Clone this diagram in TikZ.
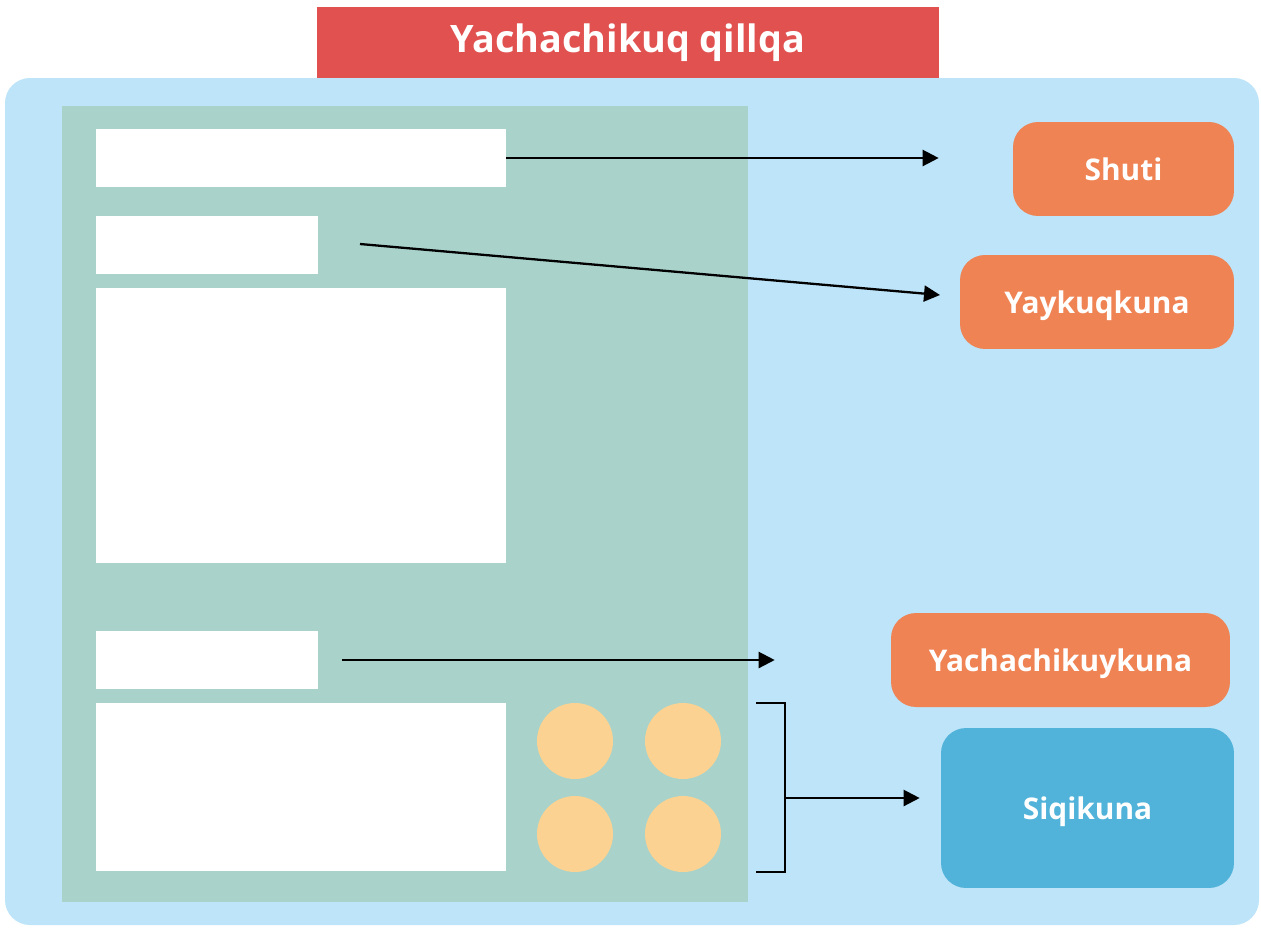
\documentclass[tikz,border=0pt]{standalone}
\usepackage{fontspec}
\setmainfont{Open Sans}
\usepackage{xcolor}
\usetikzlibrary{arrows.meta, positioning, calc}
\definecolor{titlered}{HTML}{E15150}
\definecolor{skyblue}{HTML}{BDE4F9}
\definecolor{panelgreen}{HTML}{A9D2CB}
\definecolor{tagorange}{HTML}{EF8353}
\definecolor{tagblue}{HTML}{51B3D9}
\definecolor{dotyellow}{HTML}{FBD291}
\tikzstyle{slot} = [rectangle, fill=white, inner sep=0pt]
\tikzstyle{dot} = [circle, fill=dotyellow, minimum size=1.52cm, inner sep=0pt]
\tikzstyle{tag} = [rectangle, rounded corners=0.5cm, fill=tagorange, text=white, font=\fontsize{17}{20}\selectfont\bfseries, text depth=0pt, minimum height=1.88cm]
\tikzstyle{arrow} = [line width=1.3pt,->,>={Triangle[length=0.32cm,width=0.32cm]}]

\begin{document}
\begin{tikzpicture}[x=0.02cm, y=-0.02cm]
      \useasboundingbox (0,0) rectangle (1261,927);

      % Backgrounds
      \fill[skyblue, rounded corners=0.5cm] (5,78) rectangle (1259,925);
      \fill[panelgreen] (62,106) rectangle (748,902);

      % Title
      \node[fill=titlered, text=white, minimum width=12.44cm, minimum height=1.42cm, font=\fontsize{21.5}{26}\selectfont\bfseries] (title) at (628,42.5) {Yachachikuq qillqa};

      % Page slots
      \node[slot, minimum width=8.2cm, minimum height=1.16cm] (head) at (301,158) {};
      \node[slot, minimum width=4.44cm, minimum height=1.16cm] (sub) at (207,245) {};
      \node[slot, minimum width=8.2cm, minimum height=5.5cm] (body) at (301,425.5) {};
      \node[slot, minimum width=4.44cm, minimum height=1.16cm] (task) at (207,660) {};
      \node[slot, minimum width=8.2cm, minimum height=3.36cm] (draw) at (301,787) {};

      % Dots
      \node[dot] (d1) at (575,741) {};
      \node[dot] (d2) at (683,741) {};
      \node[dot] (d3) at (575,834) {};
      \node[dot] (d4) at (683,834) {};

      % Labels
      \node[tag, minimum width=4.42cm] (shuti) at (1123.5,169) {Shuti};
      \node[tag, minimum width=5.48cm] (yayk) at (1097,302) {Yaykuqkuna};
      \node[tag, minimum width=6.78cm] (yach) at (1060.5,660) {Yachachikuykuna};
      \node[tag, fill=tagblue, minimum width=5.86cm, minimum height=3.2cm] (siqi) at (1087.5,808) {Siqikuna};

      % Arrows
      \draw[arrow, shorten >=1.48cm] (head.east) -- (shuti.west |- head.east);
      \coordinate (subA) at (360,244);
      \coordinate (subB) at (940,295);
      \draw[arrow] (subA) -- (subB);
      \draw[arrow, shorten <=0.48cm, shorten >=2.32cm] (task.east) -- (yach.west);

      % Bracket
      \coordinate (brT) at (756,703);
      \coordinate (brB) at (756,872);
      \coordinate (brM) at (785,798);
      \draw[line width=1.3pt] (brT) -- ++(29,0) |- (brB);
      \draw[arrow, shorten >=0.42cm] (brM) -- (siqi.west |- brM);
\end{tikzpicture}
\end{document}
